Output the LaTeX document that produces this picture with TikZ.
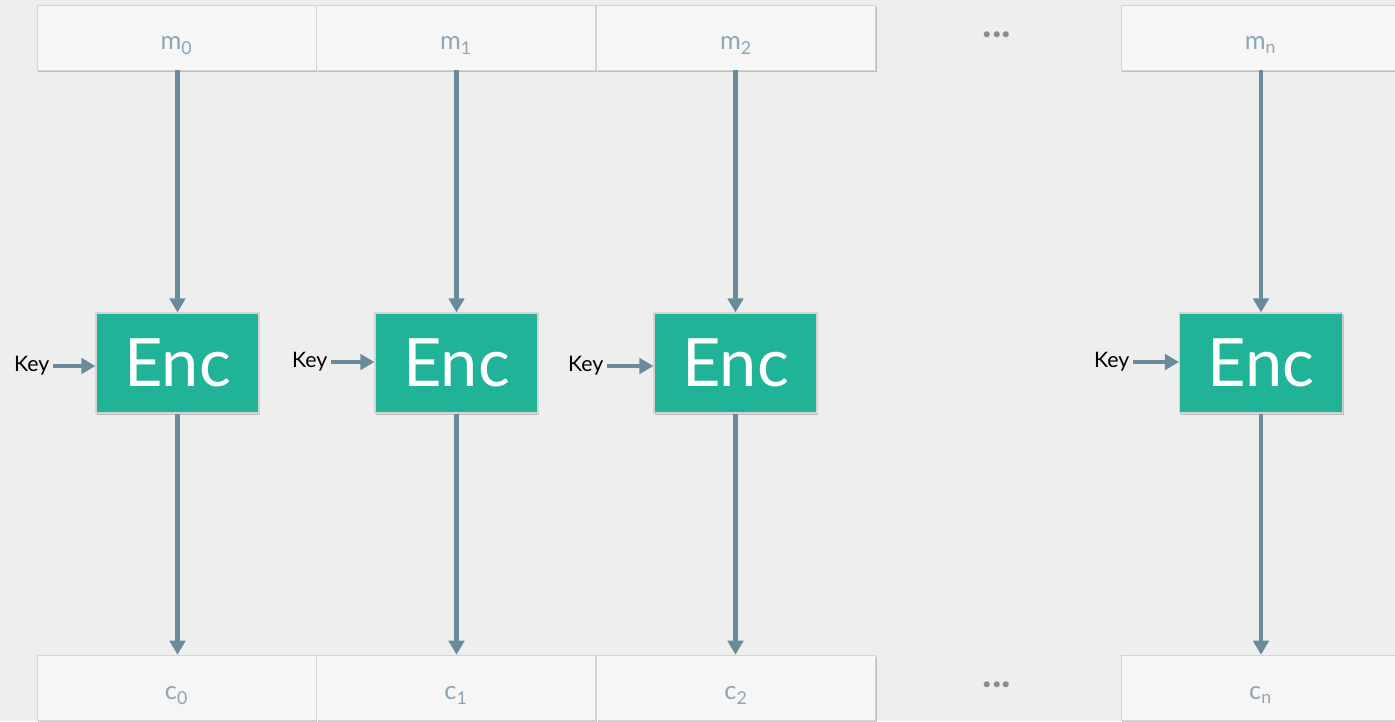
\documentclass[tikz,border=0pt]{standalone}
\usepackage{fontspec}
\setmainfont{Lato}
\usetikzlibrary{positioning,arrows.meta,shadows}
\definecolor{bgcol}{HTML}{EEEEEE}
\definecolor{boxfill}{HTML}{F6F6F6}
\definecolor{boxline}{HTML}{D4D4D4}
\definecolor{labelcol}{HTML}{8BA6B4}
\definecolor{flowcol}{HTML}{6A8B9A}
\definecolor{enccol}{HTML}{20B398}
\tikzset{
  block/.style   = {shape=rectangle, draw=boxline, fill=boxfill,
                    minimum width=209.25pt, minimum height=48.75pt,
                    inner sep=0pt, text=labelcol,
                    text height=18.5pt, text depth=0pt,
                    font=\fontsize{19}{19}\selectfont,
                    drop shadow={shadow xshift=0.8pt, shadow yshift=-1.2pt,
                                 opacity=0.35, fill=black!60}},
  encbox/.style  = {shape=rectangle, draw=boxline, fill=enccol,
                    line width=0.8pt, text=white,
                    minimum width=122.25pt, minimum height=75pt,
                    inner sep=0pt, font=\fontsize{50}{50}\selectfont,
                    drop shadow={shadow xshift=0.8pt, shadow yshift=-1.2pt,
                                 opacity=0.35, fill=black!60}},
  keytext/.style = {font=\fontsize{16}{16}\selectfont, inner sep=2.5pt},
  dots/.style    = {font=\fontsize{30}{30}\selectfont\bfseries,
                    text=gray!90, inner sep=0pt, anchor=base},
  flow/.style    = {draw=flowcol, line width=3.3pt,
                    -{Triangle[width=11.5pt,length=10.5pt]}}
}

\begin{document}
\begin{tikzpicture}[x=0.75pt, y=-0.75pt]
  \fill[bgcol] (0,0) rectangle (1395,721);
  \useasboundingbox (0,0) rectangle (1395,721);

  % message blocks
  \node [block] (m0) at (176.5,37.5) {m\textsubscript{0}};
  \node [block] (m1) at (456,37.5)   {m\textsubscript{1}};
  \node [block] (m2) at (736,37.5)   {m\textsubscript{2}};
  \node [block] (mn) at (1260.5,37.5) {m\textsubscript{n}};
  \node [dots]  (dtop) at (997,37) {...};

  % ciphertext blocks
  \node [block] (c0) at (176.5,687.5) {c\textsubscript{0}};
  \node [block] (c1) at (456,687.5)   {c\textsubscript{1}};
  \node [block] (c2) at (736,687.5)   {c\textsubscript{2}};
  \node [block] (cn) at (1260.5,687.5) {c\textsubscript{n}};
  \node [dots]  (dbot) at (997,687) {...};

  % block cipher
  \node [encbox] (e0) at (177.5,363) {Enc};
  \node [encbox] (e1) at (456.5,363) {Enc};
  \node [encbox] (e2) at (735.5,363) {Enc};
  \node [encbox] (en) at (1261,363)  {Enc};

  \node [keytext, anchor=east] (k0) at (53,366)   {Key};
  \node [keytext, anchor=east] (k1) at (331,362)  {Key};
  \node [keytext, anchor=east] (k2) at (607,366)  {Key};
  \node [keytext, anchor=east] (kn) at (1133,362) {Key};

  \draw [flow] (k0) -- (k0 -| e0.west);
  \draw [flow] (k1) -- (k1 -| e1.west);
  \draw [flow] (k2) -- (k2 -| e2.west);
  \draw [flow] (kn) -- (kn -| en.west);

  \draw [flow] (e0 |- m0.south) -- (e0.north);
  \draw [flow] (e1 |- m1.south) -- (e1.north);
  \draw [flow] (e2 |- m2.south) -- (e2.north);
  \draw [flow] (en |- mn.south) -- (en.north);

  \draw [flow] (e0.south) -- (e0 |- c0.north);
  \draw [flow] (e1.south) -- (e1 |- c1.north);
  \draw [flow] (e2.south) -- (e2 |- c2.north);
  \draw [flow] (en.south) -- (en |- cn.north);
\end{tikzpicture}
\end{document}
